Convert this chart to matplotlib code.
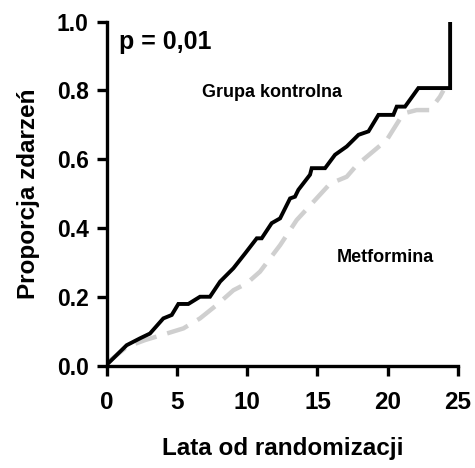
import matplotlib
matplotlib.use("Agg")
import matplotlib.pyplot as plt

plt.rcParams['font.family'] = ['Liberation Sans', 'DejaVu Sans']
plt.rcParams['font.weight'] = 'bold'

# Grupa kontrolna (black)
control_t = [0.1, 1.42, 2.37, 3.08, 4.03, 4.63, 5.1, 5.81, 6.64, 7.35, 8.07, 9.02, 9.85,
             10.68, 11.03, 11.74, 12.34, 13.05, 13.4, 13.64, 14.47, 14.59, 15.54, 16.25,
             17.08, 17.92, 18.63, 19.34, 20.4, 20.64, 21.23, 21.83, 22.18, 24.44, 24.44]
control_p = [0.006, 0.059, 0.079, 0.093, 0.137, 0.147, 0.179, 0.179, 0.2, 0.2, 0.244, 0.283,
             0.326, 0.37, 0.37, 0.414, 0.428, 0.486, 0.491, 0.511, 0.555, 0.574, 0.574, 0.613,
             0.637, 0.671, 0.681, 0.729, 0.729, 0.753, 0.753, 0.787, 0.807, 0.807, 1.0]

# Metformina (grey dashed)
metf_t = [0.1, 1.42, 2.73, 4.27, 5.46, 6.64, 7.83, 9.02, 9.97, 10.91, 12.34, 13.52, 14.71,
          15.9, 17.08, 17.8, 19.93, 21.11, 22.06, 23.0, 23.72, 23.96]
metf_p = [0.01, 0.054, 0.074, 0.093, 0.108, 0.137, 0.176, 0.219, 0.239, 0.273, 0.35, 0.423,
          0.476, 0.529, 0.549, 0.583, 0.656, 0.733, 0.743, 0.743, 0.782, 0.8]

x_ticks = [0, 5, 10, 15, 20, 25]
y_ticks = [0.0, 0.2, 0.4, 0.6, 0.8, 1.0]

fig = plt.figure(figsize=(4.75, 4.68), dpi=100)
ax = fig.add_axes([0.2246, 0.219, 0.7396, 0.7346])

ax.plot(metf_t, metf_p, color='#cfcfcf', lw=3.2, dashes=(5, 2.5))
ax.plot(control_t, control_p, color='black', lw=2.8, solid_joinstyle='miter')

ax.set_xlim(0, 25)
ax.set_ylim(0, 1.0)
ax.set_xticks(x_ticks)
ax.set_yticks(y_ticks)
ax.set_xticklabels([str(t) for t in x_ticks])
ax.set_yticklabels(['%.1f' % t for t in y_ticks])

for s in ['top', 'right']:
    ax.spines[s].set_visible(False)
for s in ['left', 'bottom']:
    ax.spines[s].set_linewidth(2.4)
ax.tick_params(width=2.4, length=7, labelsize=16.5, pad=6)
ax.tick_params(axis='x', labelsize=17.5, pad=11)

ax.set_xlabel('Lata od randomizacji', fontsize=17.5, fontweight='bold', labelpad=17)
ax.set_ylabel('Proporcja zdarzeń', fontsize=17.5, fontweight='bold', labelpad=12)

ax.text(0.9, 0.94, 'p = 0,01', fontsize=18, fontweight='bold', va='center', ha='left')
ax.text(6.8, 0.795, 'Grupa kontrolna', fontsize=13, fontweight='bold', va='center', ha='left')
ax.text(16.4, 0.315, 'Metformina', fontsize=13, fontweight='bold', va='center', ha='left')

fig.savefig('out.png', dpi=100)
